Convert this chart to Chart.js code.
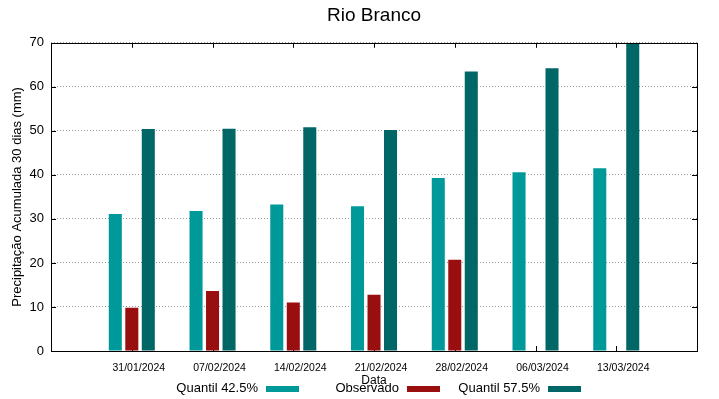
<!DOCTYPE html>
<html>
<head>
<meta charset="utf-8">
<script src="https://cdn.jsdelivr.net/npm/chart.js@4/dist/chart.umd.min.js"></script>
<style>
    body { margin: 0; background: #fff; }
    #wrap { position: relative; width: 719px; height: 399px; }
    #legend {
        position: absolute; left: 158px; top: 381px;
        display: flex; font-family: 'Liberation Sans', Arial, sans-serif;
        font-size: 13px; line-height: 14px; color: #000;
    }
    .item { width: 141px; display: flex; justify-content: flex-end; align-items: center; gap: 8px; }
    .swatch { width: 33px; height: 6px; margin-top: 2px; }
</style>
</head>
<body>
<div id="wrap">
    <canvas id="chart" width="719" height="399"></canvas>
    <div id="legend"></div>
</div>
<script>
// Dados (mm)
const datas = ['31/01/2024', '07/02/2024', '14/02/2024', '21/02/2024', '28/02/2024', '06/03/2024', '13/03/2024'];
const quantil425 = [31.1, 31.8, 33.3, 32.9, 39.3, 40.6, 41.5];
const observado = [9.8, 13.6, 11.0, 12.8, 20.7, null, null];
const quantil575 = [50.4, 50.5, 50.8, 50.2, 63.5, 64.2, 69.7];
const yTicks = [0, 10, 20, 30, 40, 50, 60, 70];

const FONT = "'Liberation Sans', Arial, sans-serif";

// one empty slot on each side, like the gnuplot xrange
const pad = arr => [null, ...arr, null];
const labels = ['', ...datas, ''];

// frame + inward ticks
const framePlugin = {
    id: 'frame',
    beforeDatasetsDraw(chart) {
        const { ctx, chartArea: a, scales: { x, y } } = chart;
        ctx.save();
        ctx.strokeStyle = '#000';
        ctx.lineWidth = 1;
        ctx.beginPath();
        x.ticks.forEach((t, i) => {
            if (!labels[i]) return;
            const px = Math.round(x.getPixelForTick(i)) + 0.5;
            ctx.moveTo(px, a.bottom); ctx.lineTo(px, a.bottom - 5);
            ctx.moveTo(px, a.top); ctx.lineTo(px, a.top + 5);
        });
        yTicks.forEach(v => {
            const py = Math.round(y.getPixelForValue(v)) + 0.5;
            ctx.moveTo(a.left, py); ctx.lineTo(a.left + 5, py);
            ctx.moveTo(a.right, py); ctx.lineTo(a.right - 5, py);
        });
        ctx.stroke();
        ctx.restore();
    },
    afterDatasetsDraw(chart) {
        const { ctx, chartArea: a } = chart;
        ctx.save();
        ctx.strokeStyle = '#000';
        ctx.lineWidth = 1;
        ctx.strokeRect(Math.round(a.left) + 0.5, Math.round(a.top) + 0.5,
            Math.round(a.right - a.left), Math.round(a.bottom - a.top));
        ctx.restore();
    }
};

const chart = new Chart(document.getElementById('chart'), {
    type: 'bar',
    data: {
        labels: labels,
        datasets: [
            { label: 'Quantil 42.5%', data: pad(quantil425), backgroundColor: '#009999' },
            { label: 'Observado', data: pad(observado), backgroundColor: '#990f0f' },
            { label: 'Quantil 57.5%', data: pad(quantil575), backgroundColor: '#006666' }
        ]
    },
    options: {
        responsive: false,
        animation: false,
        categoryPercentage: 0.613,
        barPercentage: 0.79,
        layout: { padding: { left: 6, right: 22, top: 0, bottom: 11 } },
        plugins: {
            legend: { display: false },
            tooltip: { enabled: false },
            title: {
                display: true,
                text: 'Rio Branco',
                fullSize: false,
                color: '#000',
                font: { family: FONT, size: 19, weight: 'normal' },
                padding: { top: 4, bottom: 16 }
            }
        },
        scales: {
            x: {
                offset: false,
                grid: { display: false, drawTicks: false },
                border: { display: false },
                ticks: {
                    autoSkip: false, maxRotation: 0, padding: 11, labelOffset: 7,
                    color: '#000', font: { family: FONT, size: 10.5 }
                },
                title: {
                    display: true, text: 'Data', color: '#000',
                    font: { family: FONT, size: 12 },
                    padding: { top: -12, bottom: 0 }
                }
            },
            y: {
                min: 0,
                max: 70,
                grid: { color: '#999', drawTicks: false },
                border: { display: false, dash: [1, 2] },
                ticks: {
                    stepSize: 10, padding: 7,
                    color: '#000', font: { family: FONT, size: 13 }
                },
                title: {
                    display: true, text: 'Precipitação Acumulada 30 dias (mm)', color: '#000',
                    font: { family: FONT, size: 13 },
                    padding: { top: 4, bottom: -3 }
                }
            }
        }
    },
    plugins: [framePlugin]
});

// legend like gnuplot: text then sample
const legend = document.getElementById('legend');
chart.data.datasets.forEach(ds => {
    const item = document.createElement('div');
    item.className = 'item';
    const txt = document.createElement('span');
    txt.textContent = ds.label;
    const sw = document.createElement('span');
    sw.className = 'swatch';
    sw.style.background = ds.backgroundColor;
    item.appendChild(txt);
    item.appendChild(sw);
    legend.appendChild(item);
});
</script>
</body>
</html>
